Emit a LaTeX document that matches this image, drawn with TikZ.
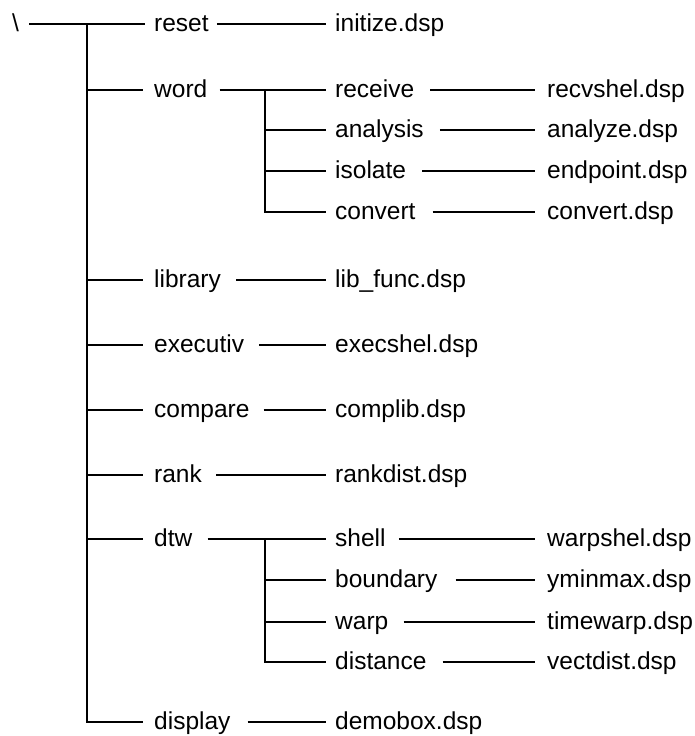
\documentclass[tikz,border=0pt]{standalone}
\usepackage{fontspec}
\setmainfont{Liberation Sans}
\begin{document}
\begin{tikzpicture}[x=1pt,y=-1pt,
  lbl/.style={inner sep=0pt, anchor=west, text height=15pt, text depth=0pt,
    font=\fontsize{24.5}{29}\selectfont},
  wire/.style={line width=2pt, black}]
\useasboundingbox (0,0) rectangle (695,736);
% root
\node[lbl] (root) at (12,24) {\textbackslash};
% level 1
\node[lbl] (reset)    at (154,24)  {reset};
\node[lbl] (word)     at (154,90)  {word};
\node[lbl] (library)  at (154,280) {library};
\node[lbl] (executiv) at (154,345) {executiv};
\node[lbl] (compare)  at (154,410) {compare};
\node[lbl] (rank)     at (154,475) {rank};
\node[lbl] (dtw)      at (154,539) {dtw};
\node[lbl] (display)  at (154,722) {display};
% level 2
\node[lbl] (initize)  at (335,24)  {initize.dsp};
\node[lbl] (receive)  at (335,90)  {receive};
\node[lbl] (analysis) at (335,130) {analysis};
\node[lbl] (isolate)  at (335,171) {isolate};
\node[lbl] (convert)  at (335,212) {convert};
\node[lbl] (libfunc)  at (335,280) {lib\_func.dsp};
\node[lbl] (execshel) at (335,345) {execshel.dsp};
\node[lbl] (complib)  at (335,410) {complib.dsp};
\node[lbl] (rankdist) at (335,475) {rankdist.dsp};
\node[lbl] (shell)    at (335,539) {shell};
\node[lbl] (boundary) at (335,580) {boundary};
\node[lbl] (warp)     at (335,622) {warp};
\node[lbl] (distance) at (335,662) {distance};
\node[lbl] (demobox)  at (335,722) {demobox.dsp};
% level 3
\node[lbl] (recvshel)   at (547,90)  {recvshel.dsp};
\node[lbl] (analyze)    at (547,130) {analyze.dsp};
\node[lbl] (endpoint)   at (547,171) {endpoint.dsp};
\node[lbl] (convertdsp) at (547,212) {convert.dsp};
\node[lbl] (warpshel)   at (547,539) {warpshel.dsp};
\node[lbl] (yminmax)    at (547,580) {yminmax.dsp};
\node[lbl] (timewarp)   at (547,622) {timewarp.dsp};
\node[lbl] (vectdist)   at (547,662) {vectdist.dsp};
% root line and main trunk
\draw[wire] ([xshift=10]root.east) -- ([xshift=-9]reset.west);
\coordinate (trunk) at (87,24);
\draw[wire] (trunk) |- ([xshift=-11]display.west);
\foreach \n in {word,library,executiv,compare,rank,dtw}
  \draw[wire] (trunk |- \n.west) -- ([xshift=-11]\n.west);
% level 1 -> level 2
\draw[wire] ([xshift=8]reset.east)    -- ([xshift=-9]initize.west);
\draw[wire] ([xshift=12]word.east)    -- ([xshift=-9]receive.west);
\draw[wire] ([xshift=15]library.east) -- ([xshift=-9]libfunc.west);
\draw[wire] ([xshift=15]executiv.east) -- ([xshift=-9]execshel.west);
\draw[wire] ([xshift=14]compare.east) -- ([xshift=-9]complib.west);
\draw[wire] ([xshift=14]rank.east)    -- ([xshift=-9]rankdist.west);
\draw[wire] ([xshift=15]dtw.east)     -- ([xshift=-9]shell.west);
\draw[wire] ([xshift=17]display.east) -- ([xshift=-9]demobox.west);
% sub trunks
\coordinate (wtrunk) at (265,90);
\draw[wire] (wtrunk) |- ([xshift=-9]convert.west);
\foreach \n in {analysis,isolate}
  \draw[wire] (wtrunk |- \n.west) -- ([xshift=-9]\n.west);
\coordinate (dtrunk) at (265,539);
\draw[wire] (dtrunk) |- ([xshift=-9]distance.west);
\foreach \n in {boundary,warp}
  \draw[wire] (dtrunk |- \n.west) -- ([xshift=-9]\n.west);
% level 2 -> level 3
\draw[wire] ([xshift=16]receive.east)  -- ([xshift=-12]recvshel.west);
\draw[wire] ([xshift=16]analysis.east) -- ([xshift=-12]analyze.west);
\draw[wire] ([xshift=16]isolate.east)  -- ([xshift=-12]endpoint.west);
\draw[wire] ([xshift=17]convert.east)  -- ([xshift=-12]convertdsp.west);
\draw[wire] ([xshift=13]shell.east)    -- ([xshift=-12]warpshel.west);
\draw[wire] ([xshift=18]boundary.east) -- ([xshift=-12]yminmax.west);
\draw[wire] ([xshift=15]warp.east)     -- ([xshift=-12]timewarp.west);
\draw[wire] ([xshift=16]distance.east) -- ([xshift=-12]vectdist.west);
\end{tikzpicture}
\end{document}
